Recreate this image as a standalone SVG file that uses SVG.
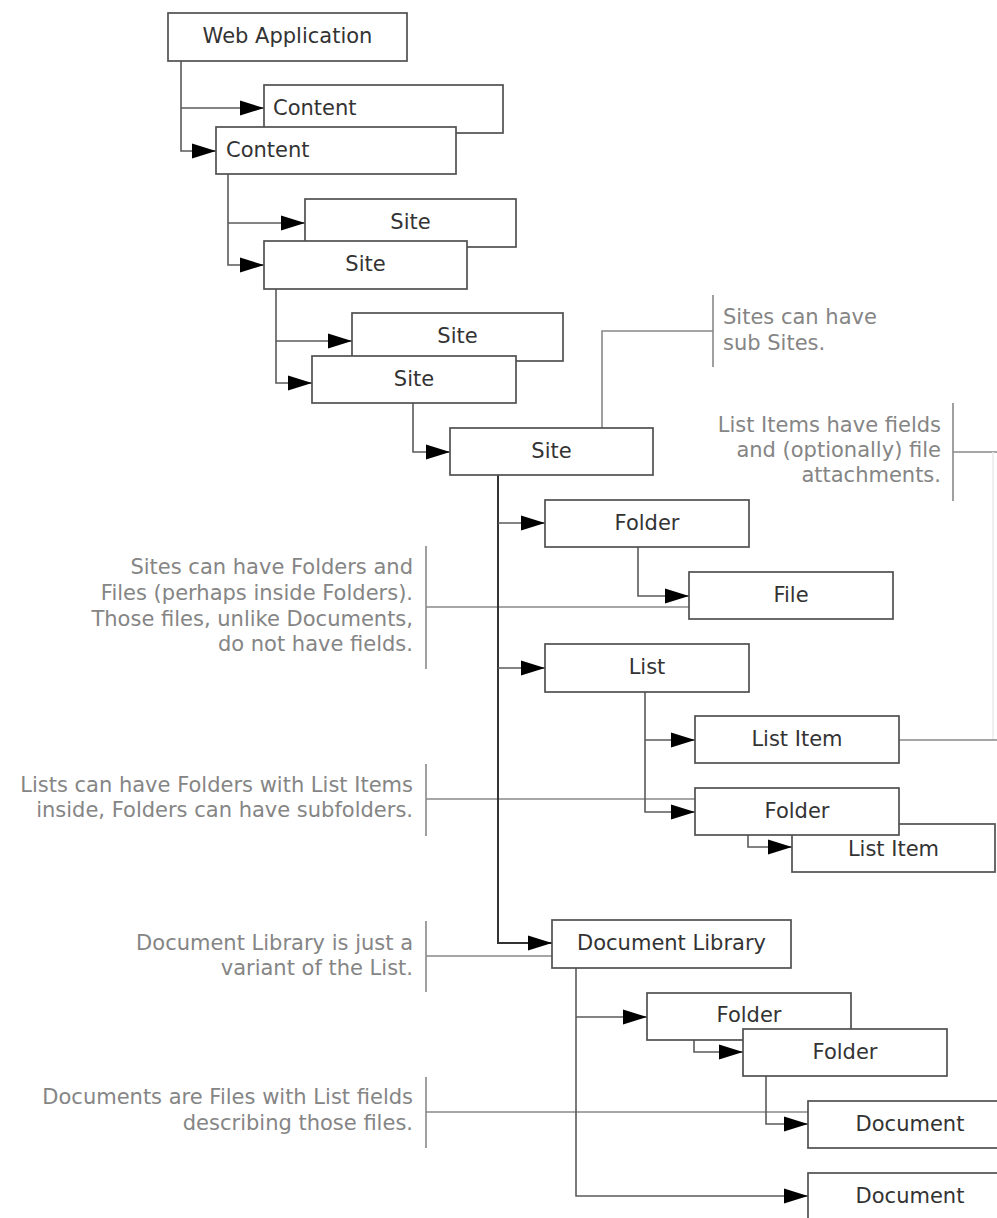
<svg xmlns="http://www.w3.org/2000/svg" width="997" height="1218" viewBox="0 0 997 1218">
<style>
.box rect{fill:#fff;stroke:#505050;stroke-width:1.7}
.box text{font-family:"DejaVu Sans",Verdana,sans-serif;font-size:21px;fill:#333;text-anchor:middle}
.box text.l{text-anchor:start}
.conn path{fill:none;stroke:#5a5a5a;stroke-width:1.6}
.conn path.arr{marker-end:url(#ah)}
.conn path.trunk{stroke:#333;stroke-width:2}
.call path{fill:none;stroke:#888;stroke-width:1.6}
.call path.faint{stroke:#ececec}
.note text{font-family:"DejaVu Sans",Verdana,sans-serif;font-size:21px;fill:#858585}
.note.r text{text-anchor:end}
</style>
<defs>
<marker id="ah" markerUnits="userSpaceOnUse" markerWidth="25" markerHeight="16" refX="24" refY="8" orient="auto" viewBox="0 0 25 16">
<path d="M0,0.5 L24,8 L0,15.5 z" fill="#000"/>
</marker>
</defs>
<rect width="997" height="1218" fill="#fff"/>

<g id="callouts" class="call">
<path d="M602,428 V331 H713"/>
<path d="M713,295 V367"/>
<path d="M953,403 V501"/>
<path d="M953,452 H997"/>
<path class="faint" d="M993,452 V740"/>
<path d="M899,740 H997"/>
<path d="M426,546 V669"/>
<path d="M426,607 H689"/>
<path d="M426,764 V836"/>
<path d="M426,799 H695"/>
<path d="M426,921 V992"/>
<path d="M426,956 H552"/>
<path d="M426,1077 V1148"/>
<path d="M426,1112 H808"/>
</g>

<g id="connectors" class="conn">
<path class="arr" d="M181,61 V151 H216"/>
<path class="arr" d="M181,108 H264"/>
<path class="arr" d="M228,174 V265 H264"/>
<path class="arr" d="M228,223 H305"/>
<path class="arr" d="M276,289 V383 H312"/>
<path class="arr" d="M276,341 H352"/>
<path class="arr" d="M413,403 V452 H450"/>
<path class="arr trunk" d="M498,475 V943 H552"/>
<path class="arr" d="M498,523 H545"/>
<path class="arr" d="M498,668 H545"/>
<path class="arr" d="M638,547 V596 H689"/>
<path class="arr" d="M645,692 V812 H695"/>
<path class="arr" d="M645,740 H695"/>
<path class="arr" d="M748,835 V847 H792"/>
<path class="arr" d="M576,968 V1196 H808"/>
<path class="arr" d="M576,1017 H647"/>
<path class="arr" d="M694,1040 V1052 H743"/>
<path class="arr" d="M766,1076 V1124 H808"/>
</g>

<g id="web-application" class="box"><rect x="168" y="13" width="239" height="48"/><text x="287.5" y="43">Web Application</text></g>
<g id="content-back" class="box"><rect x="264" y="85" width="239" height="48"/><text class="l" x="273" y="115">Content</text></g>
<g id="content-front" class="box"><rect x="216" y="127" width="240" height="47"/><text class="l" x="226" y="157">Content</text></g>
<g id="site-1-back" class="box"><rect x="305" y="199" width="211" height="48"/><text x="410.5" y="229">Site</text></g>
<g id="site-1-front" class="box"><rect x="264" y="241" width="203" height="48"/><text x="365.5" y="271">Site</text></g>
<g id="site-2-back" class="box"><rect x="352" y="313" width="211" height="48"/><text x="457.5" y="343">Site</text></g>
<g id="site-2-front" class="box"><rect x="312" y="356" width="204" height="47"/><text x="414" y="386">Site</text></g>
<g id="site-main" class="box"><rect x="450" y="428" width="203" height="47"/><text x="551.5" y="458">Site</text></g>
<g id="folder-1" class="box"><rect x="545" y="500" width="204" height="47"/><text x="647" y="530">Folder</text></g>
<g id="file" class="box"><rect x="689" y="572" width="204" height="47"/><text x="791" y="602">File</text></g>
<g id="list" class="box"><rect x="545" y="644" width="204" height="48"/><text x="647" y="674">List</text></g>
<g id="list-item-1" class="box"><rect x="695" y="716" width="204" height="47"/><text x="797" y="746">List Item</text></g>
<g id="list-item-2" class="box"><rect x="792" y="824" width="203" height="48"/><text x="893.5" y="856">List Item</text></g>
<g id="folder-2" class="box"><rect x="695" y="788" width="204" height="47"/><text x="797" y="818">Folder</text></g>
<g id="document-library" class="box"><rect x="552" y="920" width="239" height="48"/><text x="671.5" y="950">Document Library</text></g>
<g id="folder-3" class="box"><rect x="647" y="993" width="204" height="47"/><text x="749" y="1022">Folder</text></g>
<g id="folder-4" class="box"><rect x="743" y="1029" width="204" height="47"/><text x="845" y="1059">Folder</text></g>
<g id="document-1" class="box"><rect x="808" y="1101" width="204" height="47"/><text x="910" y="1131">Document</text></g>
<g id="document-2" class="box"><rect x="808" y="1173" width="204" height="47"/><text x="910" y="1203">Document</text></g>

<g id="note-subsites" class="note"><text x="723" y="324">Sites can have</text><text x="723" y="350">sub Sites.</text></g>
<g id="note-listitems" class="note r"><text x="941" y="432">List Items have fields</text><text x="941" y="457">and (optionally) file</text><text x="941" y="482">attachments.</text></g>
<g id="note-folders" class="note r"><text x="413" y="574">Sites can have Folders and</text><text x="413" y="600">Files (perhaps inside Folders).</text><text x="413" y="626">Those files, unlike Documents,</text><text x="413" y="651">do not have fields.</text></g>
<g id="note-lists" class="note r"><text x="413" y="792">Lists can have Folders with List Items</text><text x="413" y="817">inside, Folders can have subfolders.</text></g>
<g id="note-doclib" class="note r"><text x="413" y="950">Document Library is just a</text><text x="413" y="975">variant of the List.</text></g>
<g id="note-documents" class="note r"><text x="413" y="1104">Documents are Files with List fields</text><text x="413" y="1130">describing those files.</text></g>
</svg>
